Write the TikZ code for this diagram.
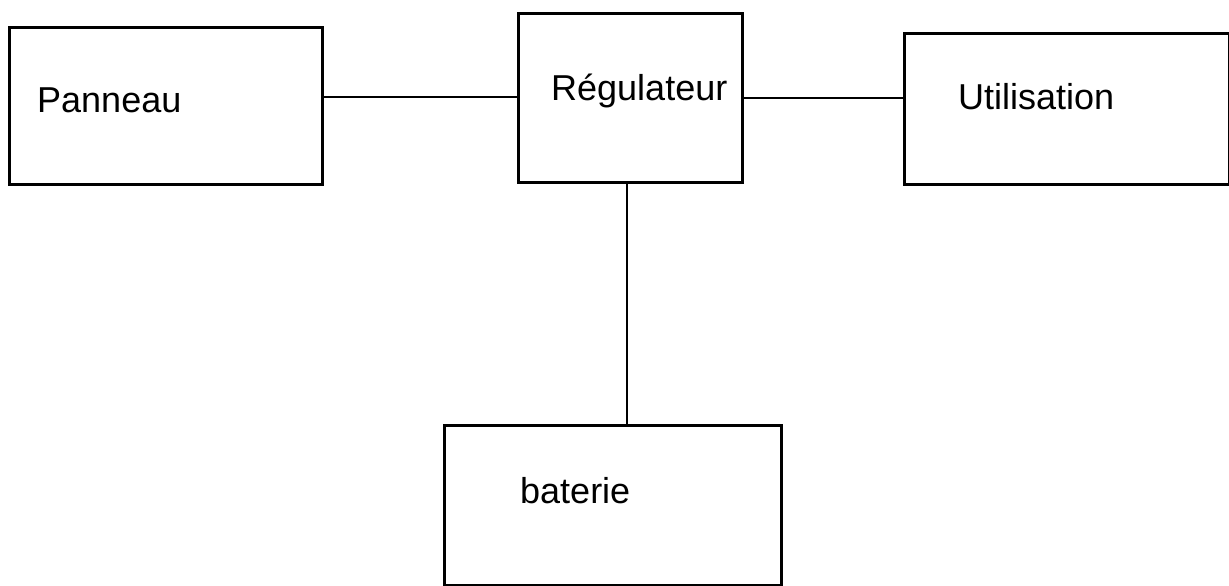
\documentclass[tikz,border=0pt]{standalone}
\usepackage{fontspec}
\setmainfont{Liberation Sans}
\begin{document}
\begin{tikzpicture}[x=1pt,y=-1pt,
  box/.style={draw=black,line width=3pt,rectangle,anchor=north west,inner sep=0pt},
  conn/.style={draw=black,line width=1.8pt},
  lbl/.style={anchor=base west,inner sep=0pt,font=\fontsize{36}{42}\selectfont}]
\useasboundingbox[fill=white] (0,0) rectangle (1229,586);
\node[box,minimum width=313pt,minimum height=157pt] (pan) at (8,26) {};
\node[box,minimum width=224pt,minimum height=169pt] (reg) at (517,12) {};
\node[box,minimum width=325pt,minimum height=151pt] (uti) at (903,32) {};
\node[box,minimum width=337pt,minimum height=160pt] (bat) at (443,424) {};
\node[lbl] (tpan) at (37,112) {Panneau};
\node[lbl] (treg) at (551,100) {Régulateur};
\node[lbl] (tuti) at (958,110) {Utilisation};
\node[lbl] (tbat) at (520,503) {baterie};
\coordinate (h1) at (0,97);
\coordinate (h2) at (0,98);
\coordinate (v) at (627,0);
\draw[conn] (pan.east |- h1) -- (reg.west |- h1);
\draw[conn] (reg.east |- h2) -- (uti.west |- h2);
\draw[conn] (reg.south -| v) -- (bat.north -| v);
\end{tikzpicture}
\end{document}
